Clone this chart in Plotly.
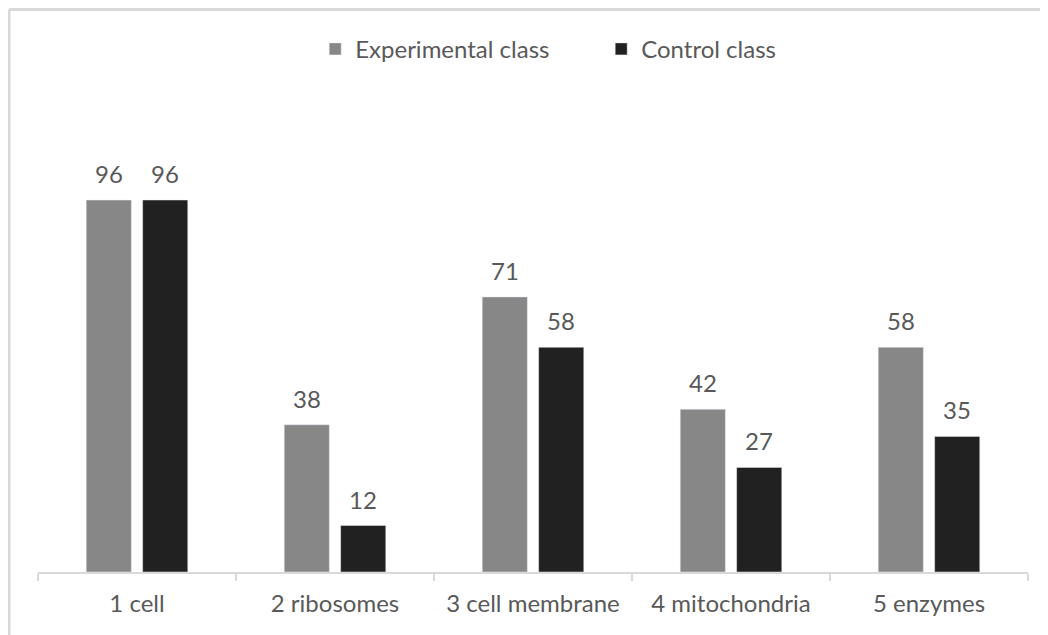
import plotly.graph_objects as go

categories = ["1 cell", "2 ribosomes", "3 cell membrane", "4 mitochondria", "5 enzymes"]
experimental = [96, 38, 71, 42, 58]
control = [96, 12, 58, 27, 35]
series_names = ["Experimental class", "Control class"]

FONT = "Lato, Carlito, Calibri, sans-serif"
TXT = "#595959"
FS = 24

fig = go.Figure()
fig.add_trace(go.Bar(x=categories, y=experimental, name=series_names[0],
                     marker_color="#878787"))
fig.add_trace(go.Bar(x=categories, y=control, name=series_names[1],
                     marker_color="#212121"))

# data labels
for vals, shift in ((experimental, -28), (control, 28)):
    for c, v in zip(categories, vals):
        fig.add_annotation(x=c, y=v, xref="x", yref="y", text=str(v), showarrow=False,
                           xshift=shift, yanchor="bottom", yshift=10,
                           font=dict(size=FS, color=TXT, family=FONT))

fig.update_layout(
    width=1048, height=635,
    paper_bgcolor="white", plot_bgcolor="white",
    margin=dict(l=30, r=28, t=99, b=71),
    barmode="group", bargap=0.43, bargroupgap=0.2,
    font=dict(family=FONT, color=TXT, size=FS),
    legend=dict(orientation="h", x=0.280, xanchor="left", y=0.935, yref="container",
                yanchor="middle", font=dict(size=FS, color=TXT, family=FONT),
                itemwidth=30, traceorder="normal",
                entrywidth=241, entrywidthmode="pixels"),
    xaxis=dict(showline=True, linecolor="#d9d9d9", linewidth=1.5,
               ticks="outside", tickson="boundaries", ticklen=7, tickcolor="#d9d9d9",
               tickwidth=1.5, ticklabelstandoff=9,
               tickfont=dict(size=FS, color=TXT, family=FONT)),
    yaxis=dict(range=[0, 120], visible=False, showgrid=False),
    showlegend=True,
)

# chart border (top and left edges visible)
fig.add_shape(type="line", xref="paper", yref="paper", x0=-0.0293, x1=1.05,
              y0=1.2097, y1=1.2097, line=dict(color="#d9d9d9", width=3))
fig.add_shape(type="line", xref="paper", yref="paper", x0=-0.0293, x1=-0.0293,
              y0=1.2097, y1=-0.3, line=dict(color="#d9d9d9", width=3))

fig.write_html("out.html")
